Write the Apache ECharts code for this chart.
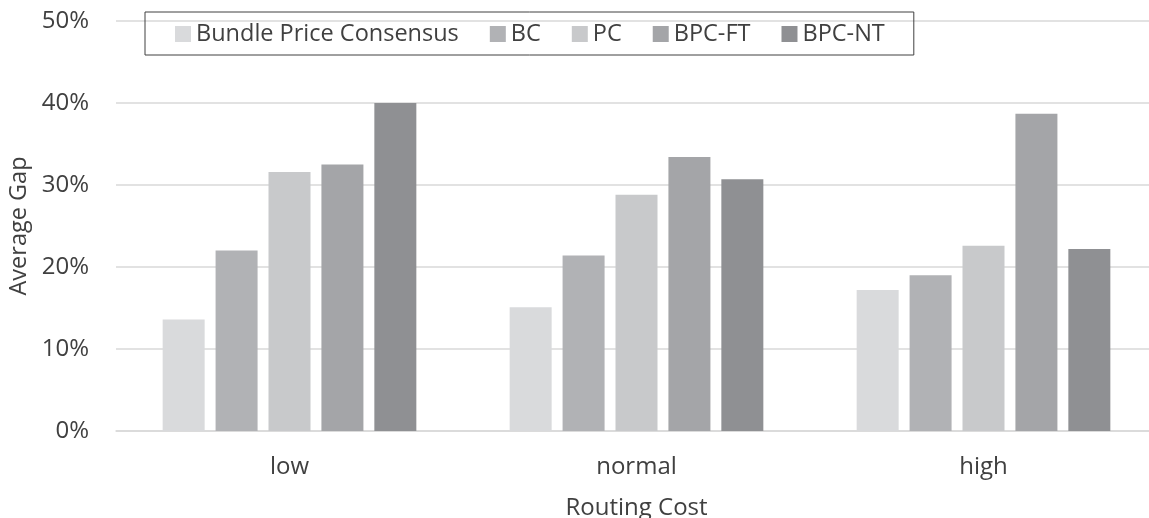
<!DOCTYPE html>
<html>
<head>
<meta charset="utf-8">
<script src="https://cdn.jsdelivr.net/npm/echarts@6/dist/echarts.min.js"></script>
<style>
html,body{margin:0;padding:0;background:#fff;}
#chart{width:1149px;height:518px;}
</style>
</head>
<body>
<div id="chart"></div>
<script>
const categories = ['low', 'normal', 'high'];
const seriesNames = ['Bundle Price Consensus', 'BC', 'PC', 'BPC-FT', 'BPC-NT'];
const bundlePriceConsensus = [13.6, 15.1, 17.2];
const bc = [22.0, 21.4, 19.0];
const pc = [31.6, 28.8, 22.6];
const bpcFT = [32.5, 33.4, 38.7];
const bpcNT = [40.0, 30.7, 22.2];
const yTicks = [0, 10, 20, 30, 40, 50];

const seriesData = [bundlePriceConsensus, bc, pc, bpcFT, bpcNT];
const colors = ['#d9dadc', '#b1b2b5', '#c8c9cb', '#a4a5a8', '#8f9093'];
const fontFamily = '"Open Sans", "Noto Sans", sans-serif';
const textColor = '#404040';

const chart = echarts.init(document.getElementById('chart'));
chart.setOption({
  animation: false,
  textStyle: { fontFamily: fontFamily },
  legend: {
    data: seriesNames,
    left: 145,
    top: 12,
    icon: 'rect',
    itemWidth: 16,
    itemHeight: 16,
    itemGap: 31,
    padding: [10, 29, 9, 30],
    borderColor: '#404040',
    borderWidth: 1,
    textStyle: { fontSize: 23.5, color: textColor, fontFamily: fontFamily }
  },
  grid: { left: 116, right: -8, top: 21, bottom: 87, containLabel: false, outerBoundsMode: 'none' },
  xAxis: {
    type: 'category',
    data: categories,
    name: 'Routing Cost',
    nameLocation: 'middle',
    nameGap: 65,
    nameTextStyle: { fontSize: 24, color: textColor },
    axisLine: { lineStyle: { color: '#d9d9d9', width: 1.5 } },
    axisTick: { show: false },
    axisLabel: { fontSize: 24, color: textColor, margin: 24 }
  },
  yAxis: {
    type: 'value',
    min: yTicks[0],
    max: yTicks[yTicks.length - 1],
    interval: 10,
    name: 'Average Gap',
    nameLocation: 'middle',
    nameGap: 80,
    nameTextStyle: { fontSize: 23.5, color: textColor },
    axisLine: { show: false },
    axisTick: { show: false },
    splitLine: { lineStyle: { color: '#d9d9d9', width: 1.5 } },
    axisLabel: { fontSize: 24, color: textColor, margin: 27, formatter: '{value}%' }
  },
  series: seriesNames.map((name, i) => ({
    name: name,
    type: 'bar',
    data: seriesData[i],
    barWidth: 42,
    barGap: '26%',
    itemStyle: { color: colors[i] }
  }))
});
</script>
</body>
</html>
